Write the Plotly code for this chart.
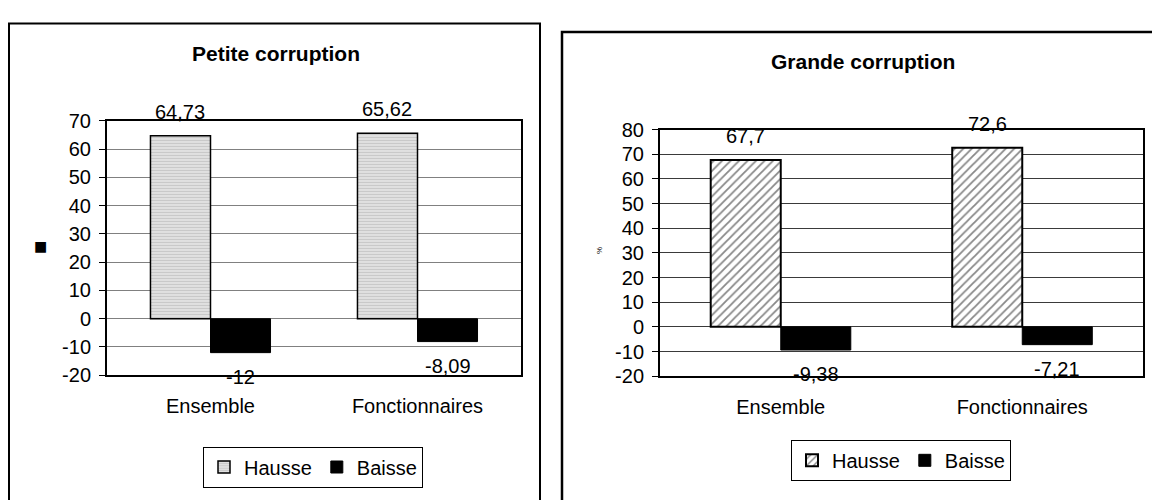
import plotly.graph_objects as go

# ---- data ----
categories = ["Ensemble", "Fonctionnaires"]
petite_hausse = [64.73, 65.62]
petite_baisse = [-12, -8.09]
grande_hausse = [67.7, 72.6]
grande_baisse = [-9.38, -7.21]
series_names = ["Hausse", "Baisse"]
titles = ["Petite corruption", "Grande corruption"]
ytitles = ["■", "%"]
petite_ticks = [-20, -10, 0, 10, 20, 30, 40, 50, 60, 70]
grande_ticks = [-20, -10, 0, 10, 20, 30, 40, 50, 60, 70, 80]

W, H = 1152, 500
FONT = "Liberation Sans, Arial, sans-serif"
FS = 20
BARGAP = 0.42


def px(x):
    return x / W


def py(y):
    return 1 - y / H


def fmt(v):
    return f"{v:g}".replace(".", ",")


fig = go.Figure()

# left chart
fig.add_trace(go.Bar(
    x=categories, y=petite_hausse, name=series_names[0], xaxis="x", yaxis="y", legend="legend",
    marker=dict(color="#dcdcdc", line=dict(color="black", width=1.5),
                pattern=dict(shape="-", fgcolor="#b0b0b0", bgcolor="#e0e0e0", size=3, solidity=0.35)),
))
fig.add_trace(go.Bar(
    x=categories, y=petite_baisse, name=series_names[1], xaxis="x", yaxis="y", legend="legend",
    marker=dict(color="black", line=dict(color="black", width=1)),
))
# right chart
fig.add_trace(go.Bar(
    x=categories, y=grande_hausse, name=series_names[0], xaxis="x2", yaxis="y2", legend="legend2",
    marker=dict(color="white", line=dict(color="black", width=2),
                pattern=dict(shape="/", fgcolor="#111111", bgcolor="white", size=6, solidity=0.3)),
))
fig.add_trace(go.Bar(
    x=categories, y=grande_baisse, name=series_names[1], xaxis="x2", yaxis="y2", legend="legend2",
    marker=dict(color="black", line=dict(color="black", width=1)),
))

axis_font = dict(family=FONT, size=FS, color="black")

xcommon = dict(type="category", showline=True, mirror=True, linecolor="black", linewidth=2,
               ticks="", showgrid=False, tickfont=axis_font, ticklabelstandoff=12,
               fixedrange=True)
ycommon = dict(showline=True, mirror=True, linecolor="black", linewidth=2, ticks="outside",
               ticklen=6, tickcolor="black", zeroline=False, tickfont=axis_font,
               ticklabelstandoff=4, fixedrange=True)

annotations = []
shapes = []

# data labels
bw = (1 - BARGAP) / 2
for axx, axy, hs, bs in (("x", "y", petite_hausse, petite_baisse),
                         ("x2", "y2", grande_hausse, grande_baisse)):
    for i in range(len(categories)):
        for off, v in ((-bw / 2, hs[i]), (bw / 2, bs[i])):
            annotations.append(dict(
                x=i + off, y=v, xref=axx, yref=axy, text=fmt(v), showarrow=False,
                xanchor="center", yanchor="middle", yshift=24 if v >= 0 else -24,
                font=dict(family=FONT, size=FS, color="black")))

# titles
annotations.append(dict(x=px(276), y=py(44), xref="paper", yref="paper", text=f"<b>{titles[0]}</b>",
                        showarrow=False, xanchor="center", yanchor="middle",
                        font=dict(family=FONT, size=21, color="black")))
annotations.append(dict(x=px(863), y=py(53), xref="paper", yref="paper", text=f"<b>{titles[1]}</b>",
                        showarrow=False, xanchor="center", yanchor="middle",
                        font=dict(family=FONT, size=21, color="black")))
# y-axis titles
annotations.append(dict(x=px(40), y=py(246), xref="paper", yref="paper", text=ytitles[0],
                        showarrow=False, xanchor="center", yanchor="middle",
                        font=dict(family="DejaVu Sans", size=14, color="black")))
annotations.append(dict(x=px(600), y=py(251), xref="paper", yref="paper", text=ytitles[1],
                        showarrow=False, textangle=-90, xanchor="center", yanchor="middle",
                        font=dict(family=FONT, size=8, color="black")))

# outer panel borders (extend past the bottom edge, as in the cropped reference)
shapes.append(dict(type="rect", xref="paper", yref="paper", x0=px(9), x1=px(540), y0=-0.1, y1=py(13),
                   line=dict(color="black", width=2), layer="below"))
shapes.append(dict(type="rect", xref="paper", yref="paper", x0=px(562), x1=1.05, y0=-0.1, y1=py(22),
                   line=dict(color="black", width=2.5), layer="below"))

legend_common = dict(orientation="h", bordercolor="black", borderwidth=1, bgcolor="white",
                     font=dict(family=FONT, size=FS, color="black"), xanchor="center", yanchor="middle",
                     itemwidth=30, tracegroupgap=0, traceorder="normal")

fig.update_layout(
    width=W, height=H,
    margin=dict(l=0, r=0, t=0, b=0),
    paper_bgcolor="white", plot_bgcolor="white",
    barmode="group", bargap=BARGAP, bargroupgap=0,
    font=dict(family=FONT, size=FS, color="black"),
    xaxis=dict(domain=[px(107), px(521)], anchor="y", **xcommon),
    yaxis=dict(domain=[py(381), py(115)], anchor="x", range=[-20, 70],
               tickvals=petite_ticks, ticktext=[str(t) for t in petite_ticks],
               gridcolor="#808080", gridwidth=1, **ycommon),
    xaxis2=dict(domain=[px(660), px(1143)], anchor="y2", **xcommon),
    yaxis2=dict(domain=[py(382), py(124)], anchor="x2", range=[-20, 80],
                tickvals=grande_ticks, ticktext=[str(t) for t in grande_ticks],
                gridcolor="#3a3a3a", gridwidth=1, **ycommon),
    legend=dict(x=px(313), y=py(477), **legend_common),
    legend2=dict(x=px(901), y=py(470), **legend_common),
    annotations=annotations,
    shapes=shapes,
    showlegend=True,
)

fig.write_html(
    "out.html",
    config={"displayModeBar": False, "staticPlot": True},
    post_script="document.body.style.margin='0';document.body.style.overflow='hidden';",
)
